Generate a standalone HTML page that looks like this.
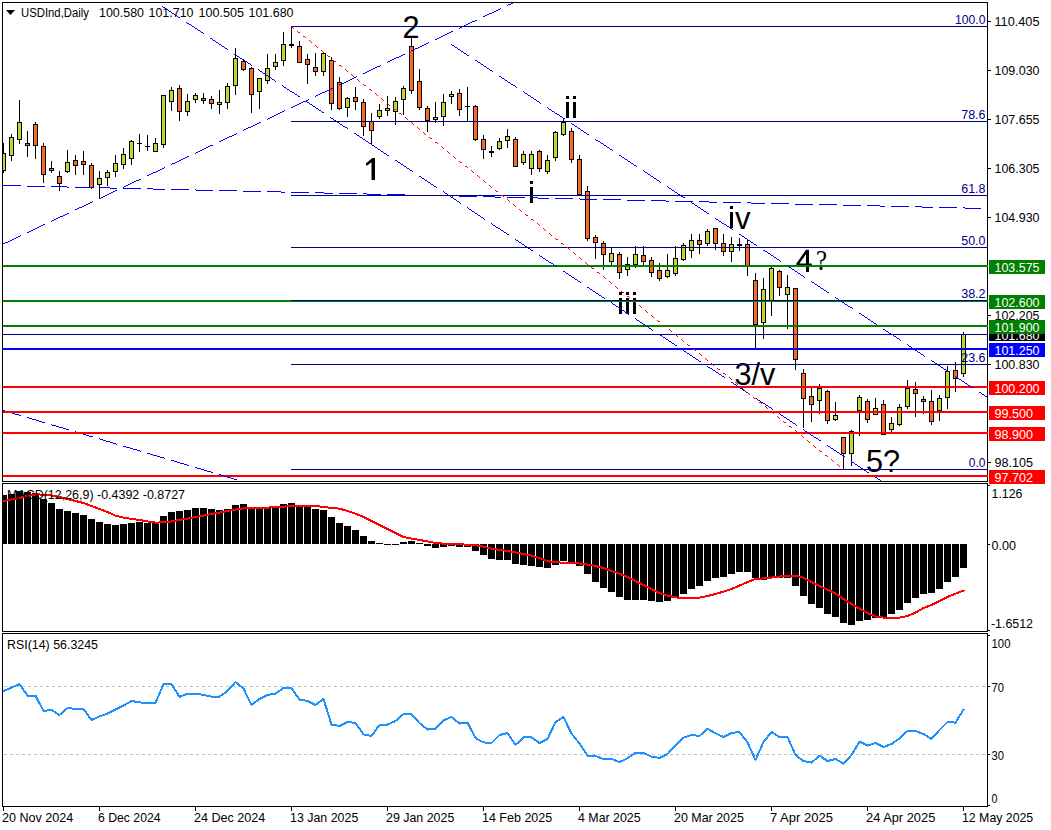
<!DOCTYPE html><html><head><meta charset="utf-8"><style>html,body{margin:0;padding:0;background:#fff;width:1051px;height:830px;overflow:hidden}svg{display:block}text{font-family:"Liberation Sans",sans-serif}</style></head><body>
<svg width="1051" height="830" viewBox="0 0 1051 830">
<defs><clipPath id="cm"><rect x="3" y="3" width="984" height="478"/></clipPath><clipPath id="cd"><rect x="3" y="484" width="984" height="147"/></clipPath><clipPath id="cr"><rect x="3" y="634" width="984" height="172"/></clipPath></defs>
<rect x="0" y="0" width="1051" height="830" fill="#fff"/>
<g clip-path="url(#cm)" shape-rendering="crispEdges">
<rect x="3" y="143" width="1" height="30" fill="#000"/>
<rect x="1" y="153" width="5" height="18" fill="#000"/>
<rect x="2" y="154" width="3" height="16" fill="#c3dc32"/>
<rect x="3" y="154" width="1" height="16" fill="#bbd230"/>
<rect x="11" y="134" width="1" height="27" fill="#000"/>
<rect x="9" y="137" width="5" height="19" fill="#000"/>
<rect x="10" y="138" width="3" height="17" fill="#c3dc32"/>
<rect x="11" y="138" width="1" height="17" fill="#bbd230"/>
<rect x="19" y="100" width="1" height="44" fill="#000"/>
<rect x="17" y="122" width="5" height="18" fill="#000"/>
<rect x="18" y="123" width="3" height="16" fill="#c3dc32"/>
<rect x="19" y="123" width="1" height="16" fill="#bbd230"/>
<rect x="27" y="131" width="1" height="26" fill="#000"/>
<rect x="25" y="143" width="5" height="3" fill="#000"/>
<rect x="26" y="144" width="3" height="1" fill="#ff6d24"/>
<rect x="27" y="144" width="1" height="1" fill="#f0672a"/>
<rect x="35" y="122" width="1" height="37" fill="#000"/>
<rect x="33" y="124" width="5" height="22" fill="#000"/>
<rect x="34" y="125" width="3" height="20" fill="#ff6d24"/>
<rect x="35" y="125" width="1" height="20" fill="#f0672a"/>
<rect x="43" y="143" width="1" height="40" fill="#000"/>
<rect x="41" y="146" width="5" height="29" fill="#000"/>
<rect x="42" y="147" width="3" height="27" fill="#ff6d24"/>
<rect x="43" y="147" width="1" height="27" fill="#f0672a"/>
<rect x="51" y="161" width="1" height="12" fill="#000"/>
<rect x="49" y="168" width="5" height="3" fill="#000"/>
<rect x="50" y="169" width="3" height="1" fill="#ff6d24"/>
<rect x="51" y="169" width="1" height="1" fill="#f0672a"/>
<rect x="59" y="171" width="1" height="20" fill="#000"/>
<rect x="57" y="176" width="5" height="8" fill="#000"/>
<rect x="58" y="177" width="3" height="6" fill="#ff6d24"/>
<rect x="59" y="177" width="1" height="6" fill="#f0672a"/>
<rect x="67" y="150" width="1" height="23" fill="#000"/>
<rect x="65" y="162" width="5" height="10" fill="#000"/>
<rect x="66" y="163" width="3" height="8" fill="#c3dc32"/>
<rect x="67" y="163" width="1" height="8" fill="#bbd230"/>
<rect x="75" y="155" width="1" height="20" fill="#000"/>
<rect x="73" y="160" width="5" height="6" fill="#000"/>
<rect x="74" y="161" width="3" height="4" fill="#ff6d24"/>
<rect x="75" y="161" width="1" height="4" fill="#f0672a"/>
<rect x="83" y="151" width="1" height="24" fill="#000"/>
<rect x="81" y="161" width="5" height="4" fill="#000"/>
<rect x="82" y="162" width="3" height="2" fill="#ff6d24"/>
<rect x="83" y="162" width="1" height="2" fill="#f0672a"/>
<rect x="91" y="163" width="1" height="26" fill="#000"/>
<rect x="89" y="165" width="5" height="23" fill="#000"/>
<rect x="90" y="166" width="3" height="21" fill="#ff6d24"/>
<rect x="91" y="166" width="1" height="21" fill="#f0672a"/>
<rect x="99" y="171" width="1" height="28" fill="#000"/>
<rect x="97" y="178" width="5" height="7" fill="#000"/>
<rect x="98" y="179" width="3" height="5" fill="#c3dc32"/>
<rect x="99" y="179" width="1" height="5" fill="#bbd230"/>
<rect x="107" y="170" width="1" height="16" fill="#000"/>
<rect x="105" y="172" width="5" height="6" fill="#000"/>
<rect x="106" y="173" width="3" height="4" fill="#c3dc32"/>
<rect x="107" y="173" width="1" height="4" fill="#bbd230"/>
<rect x="115" y="155" width="1" height="22" fill="#000"/>
<rect x="113" y="163" width="5" height="9" fill="#000"/>
<rect x="114" y="164" width="3" height="7" fill="#c3dc32"/>
<rect x="115" y="164" width="1" height="7" fill="#bbd230"/>
<rect x="123" y="148" width="1" height="21" fill="#000"/>
<rect x="121" y="154" width="5" height="11" fill="#000"/>
<rect x="122" y="155" width="3" height="9" fill="#c3dc32"/>
<rect x="123" y="155" width="1" height="9" fill="#bbd230"/>
<rect x="131" y="140" width="1" height="25" fill="#000"/>
<rect x="129" y="141" width="5" height="18" fill="#000"/>
<rect x="130" y="142" width="3" height="16" fill="#c3dc32"/>
<rect x="131" y="142" width="1" height="16" fill="#bbd230"/>
<rect x="139" y="134" width="1" height="18" fill="#000"/>
<rect x="137" y="143" width="5" height="1" fill="#000"/>
<rect x="147" y="135" width="1" height="16" fill="#000"/>
<rect x="145" y="146" width="5" height="1" fill="#000"/>
<rect x="155" y="138" width="1" height="14" fill="#000"/>
<rect x="153" y="143" width="5" height="9" fill="#000"/>
<rect x="154" y="144" width="3" height="7" fill="#c3dc32"/>
<rect x="155" y="144" width="1" height="7" fill="#bbd230"/>
<rect x="163" y="95" width="1" height="53" fill="#000"/>
<rect x="161" y="95" width="5" height="50" fill="#000"/>
<rect x="162" y="96" width="3" height="48" fill="#c3dc32"/>
<rect x="163" y="96" width="1" height="48" fill="#bbd230"/>
<rect x="171" y="87" width="1" height="24" fill="#000"/>
<rect x="169" y="90" width="5" height="12" fill="#000"/>
<rect x="170" y="91" width="3" height="10" fill="#c3dc32"/>
<rect x="171" y="91" width="1" height="10" fill="#bbd230"/>
<rect x="179" y="85" width="1" height="36" fill="#000"/>
<rect x="177" y="88" width="5" height="24" fill="#000"/>
<rect x="178" y="89" width="3" height="22" fill="#ff6d24"/>
<rect x="179" y="89" width="1" height="22" fill="#f0672a"/>
<rect x="187" y="94" width="1" height="22" fill="#000"/>
<rect x="185" y="101" width="5" height="11" fill="#000"/>
<rect x="186" y="102" width="3" height="9" fill="#c3dc32"/>
<rect x="187" y="102" width="1" height="9" fill="#bbd230"/>
<rect x="195" y="93" width="1" height="10" fill="#000"/>
<rect x="193" y="95" width="5" height="5" fill="#000"/>
<rect x="194" y="96" width="3" height="3" fill="#c3dc32"/>
<rect x="195" y="96" width="1" height="3" fill="#bbd230"/>
<rect x="203" y="93" width="1" height="11" fill="#000"/>
<rect x="201" y="98" width="5" height="3" fill="#000"/>
<rect x="202" y="99" width="3" height="1" fill="#ff6d24"/>
<rect x="203" y="99" width="1" height="1" fill="#f0672a"/>
<rect x="211" y="96" width="1" height="13" fill="#000"/>
<rect x="209" y="99" width="5" height="5" fill="#000"/>
<rect x="210" y="100" width="3" height="3" fill="#ff6d24"/>
<rect x="211" y="100" width="1" height="3" fill="#f0672a"/>
<rect x="219" y="90" width="1" height="24" fill="#000"/>
<rect x="217" y="102" width="5" height="3" fill="#000"/>
<rect x="218" y="103" width="3" height="1" fill="#c3dc32"/>
<rect x="219" y="103" width="1" height="1" fill="#bbd230"/>
<rect x="227" y="83" width="1" height="26" fill="#000"/>
<rect x="225" y="86" width="5" height="17" fill="#000"/>
<rect x="226" y="87" width="3" height="15" fill="#c3dc32"/>
<rect x="227" y="87" width="1" height="15" fill="#bbd230"/>
<rect x="235" y="48" width="1" height="47" fill="#000"/>
<rect x="233" y="58" width="5" height="28" fill="#000"/>
<rect x="234" y="59" width="3" height="26" fill="#c3dc32"/>
<rect x="235" y="59" width="1" height="26" fill="#bbd230"/>
<rect x="243" y="60" width="1" height="11" fill="#000"/>
<rect x="241" y="61" width="5" height="9" fill="#000"/>
<rect x="242" y="62" width="3" height="7" fill="#ff6d24"/>
<rect x="243" y="62" width="1" height="7" fill="#f0672a"/>
<rect x="251" y="67" width="1" height="46" fill="#000"/>
<rect x="249" y="68" width="5" height="27" fill="#000"/>
<rect x="250" y="69" width="3" height="25" fill="#ff6d24"/>
<rect x="251" y="69" width="1" height="25" fill="#f0672a"/>
<rect x="259" y="78" width="1" height="31" fill="#000"/>
<rect x="257" y="78" width="5" height="14" fill="#000"/>
<rect x="258" y="79" width="3" height="12" fill="#c3dc32"/>
<rect x="259" y="79" width="1" height="12" fill="#bbd230"/>
<rect x="267" y="54" width="1" height="30" fill="#000"/>
<rect x="265" y="68" width="5" height="13" fill="#000"/>
<rect x="266" y="69" width="3" height="11" fill="#c3dc32"/>
<rect x="267" y="69" width="1" height="11" fill="#bbd230"/>
<rect x="275" y="54" width="1" height="16" fill="#000"/>
<rect x="273" y="62" width="5" height="5" fill="#000"/>
<rect x="274" y="63" width="3" height="3" fill="#c3dc32"/>
<rect x="275" y="63" width="1" height="3" fill="#bbd230"/>
<rect x="283" y="32" width="1" height="34" fill="#000"/>
<rect x="281" y="44" width="5" height="17" fill="#000"/>
<rect x="282" y="45" width="3" height="15" fill="#c3dc32"/>
<rect x="283" y="45" width="1" height="15" fill="#bbd230"/>
<rect x="291" y="26" width="1" height="22" fill="#000"/>
<rect x="289" y="44" width="5" height="2" fill="#000"/>
<rect x="299" y="41" width="1" height="22" fill="#000"/>
<rect x="297" y="46" width="5" height="17" fill="#000"/>
<rect x="298" y="47" width="3" height="15" fill="#ff6d24"/>
<rect x="299" y="47" width="1" height="15" fill="#f0672a"/>
<rect x="307" y="54" width="1" height="30" fill="#000"/>
<rect x="305" y="59" width="5" height="6" fill="#000"/>
<rect x="306" y="60" width="3" height="4" fill="#ff6d24"/>
<rect x="307" y="60" width="1" height="4" fill="#f0672a"/>
<rect x="315" y="53" width="1" height="23" fill="#000"/>
<rect x="313" y="67" width="5" height="5" fill="#000"/>
<rect x="314" y="68" width="3" height="3" fill="#ff6d24"/>
<rect x="315" y="68" width="1" height="3" fill="#f0672a"/>
<rect x="323" y="53" width="1" height="23" fill="#000"/>
<rect x="321" y="53" width="5" height="19" fill="#000"/>
<rect x="322" y="54" width="3" height="17" fill="#c3dc32"/>
<rect x="323" y="54" width="1" height="17" fill="#bbd230"/>
<rect x="331" y="57" width="1" height="53" fill="#000"/>
<rect x="329" y="60" width="5" height="44" fill="#000"/>
<rect x="330" y="61" width="3" height="42" fill="#ff6d24"/>
<rect x="331" y="61" width="1" height="42" fill="#f0672a"/>
<rect x="339" y="77" width="1" height="33" fill="#000"/>
<rect x="337" y="82" width="5" height="27" fill="#000"/>
<rect x="338" y="83" width="3" height="25" fill="#ff6d24"/>
<rect x="339" y="83" width="1" height="25" fill="#f0672a"/>
<rect x="347" y="97" width="1" height="20" fill="#000"/>
<rect x="345" y="98" width="5" height="10" fill="#000"/>
<rect x="346" y="99" width="3" height="8" fill="#c3dc32"/>
<rect x="347" y="99" width="1" height="8" fill="#bbd230"/>
<rect x="355" y="87" width="1" height="23" fill="#000"/>
<rect x="353" y="97" width="5" height="5" fill="#000"/>
<rect x="354" y="98" width="3" height="3" fill="#ff6d24"/>
<rect x="355" y="98" width="1" height="3" fill="#f0672a"/>
<rect x="363" y="99" width="1" height="37" fill="#000"/>
<rect x="361" y="102" width="5" height="25" fill="#000"/>
<rect x="362" y="103" width="3" height="23" fill="#ff6d24"/>
<rect x="363" y="103" width="1" height="23" fill="#f0672a"/>
<rect x="371" y="113" width="1" height="32" fill="#000"/>
<rect x="369" y="121" width="5" height="10" fill="#000"/>
<rect x="370" y="122" width="3" height="8" fill="#ff6d24"/>
<rect x="371" y="122" width="1" height="8" fill="#f0672a"/>
<rect x="379" y="104" width="1" height="15" fill="#000"/>
<rect x="377" y="110" width="5" height="7" fill="#000"/>
<rect x="378" y="111" width="3" height="5" fill="#c3dc32"/>
<rect x="379" y="111" width="1" height="5" fill="#bbd230"/>
<rect x="387" y="96" width="1" height="20" fill="#000"/>
<rect x="385" y="108" width="5" height="3" fill="#000"/>
<rect x="386" y="109" width="3" height="1" fill="#c3dc32"/>
<rect x="387" y="109" width="1" height="1" fill="#bbd230"/>
<rect x="395" y="97" width="1" height="28" fill="#000"/>
<rect x="393" y="101" width="5" height="11" fill="#000"/>
<rect x="394" y="102" width="3" height="9" fill="#c3dc32"/>
<rect x="395" y="102" width="1" height="9" fill="#bbd230"/>
<rect x="403" y="86" width="1" height="29" fill="#000"/>
<rect x="401" y="88" width="5" height="12" fill="#000"/>
<rect x="402" y="89" width="3" height="10" fill="#c3dc32"/>
<rect x="403" y="89" width="1" height="10" fill="#bbd230"/>
<rect x="411" y="38" width="1" height="56" fill="#000"/>
<rect x="409" y="46" width="5" height="45" fill="#000"/>
<rect x="410" y="47" width="3" height="43" fill="#ff6d24"/>
<rect x="411" y="47" width="1" height="43" fill="#f0672a"/>
<rect x="419" y="69" width="1" height="41" fill="#000"/>
<rect x="417" y="81" width="5" height="27" fill="#000"/>
<rect x="418" y="82" width="3" height="25" fill="#ff6d24"/>
<rect x="419" y="82" width="1" height="25" fill="#f0672a"/>
<rect x="427" y="106" width="1" height="26" fill="#000"/>
<rect x="425" y="108" width="5" height="13" fill="#000"/>
<rect x="426" y="109" width="3" height="11" fill="#ff6d24"/>
<rect x="427" y="109" width="1" height="11" fill="#f0672a"/>
<rect x="435" y="102" width="1" height="21" fill="#000"/>
<rect x="433" y="117" width="5" height="3" fill="#000"/>
<rect x="434" y="118" width="3" height="1" fill="#c3dc32"/>
<rect x="435" y="118" width="1" height="1" fill="#bbd230"/>
<rect x="443" y="94" width="1" height="32" fill="#000"/>
<rect x="441" y="102" width="5" height="15" fill="#000"/>
<rect x="442" y="103" width="3" height="13" fill="#c3dc32"/>
<rect x="443" y="103" width="1" height="13" fill="#bbd230"/>
<rect x="451" y="91" width="1" height="13" fill="#000"/>
<rect x="449" y="94" width="5" height="3" fill="#000"/>
<rect x="450" y="95" width="3" height="1" fill="#c3dc32"/>
<rect x="451" y="95" width="1" height="1" fill="#bbd230"/>
<rect x="459" y="89" width="1" height="27" fill="#000"/>
<rect x="457" y="93" width="5" height="17" fill="#000"/>
<rect x="458" y="94" width="3" height="15" fill="#ff6d24"/>
<rect x="459" y="94" width="1" height="15" fill="#f0672a"/>
<rect x="467" y="87" width="1" height="35" fill="#000"/>
<rect x="465" y="106" width="5" height="1" fill="#000"/>
<rect x="475" y="105" width="1" height="36" fill="#000"/>
<rect x="473" y="106" width="5" height="34" fill="#000"/>
<rect x="474" y="107" width="3" height="32" fill="#ff6d24"/>
<rect x="475" y="107" width="1" height="32" fill="#f0672a"/>
<rect x="483" y="135" width="1" height="24" fill="#000"/>
<rect x="481" y="139" width="5" height="11" fill="#000"/>
<rect x="482" y="140" width="3" height="9" fill="#ff6d24"/>
<rect x="483" y="140" width="1" height="9" fill="#f0672a"/>
<rect x="491" y="146" width="1" height="11" fill="#000"/>
<rect x="489" y="151" width="5" height="2" fill="#000"/>
<rect x="499" y="138" width="1" height="12" fill="#000"/>
<rect x="497" y="141" width="5" height="8" fill="#000"/>
<rect x="498" y="142" width="3" height="6" fill="#c3dc32"/>
<rect x="499" y="142" width="1" height="6" fill="#bbd230"/>
<rect x="507" y="129" width="1" height="19" fill="#000"/>
<rect x="505" y="136" width="5" height="5" fill="#000"/>
<rect x="506" y="137" width="3" height="3" fill="#c3dc32"/>
<rect x="507" y="137" width="1" height="3" fill="#bbd230"/>
<rect x="515" y="137" width="1" height="30" fill="#000"/>
<rect x="513" y="139" width="5" height="28" fill="#000"/>
<rect x="514" y="140" width="3" height="26" fill="#ff6d24"/>
<rect x="515" y="140" width="1" height="26" fill="#f0672a"/>
<rect x="523" y="151" width="1" height="14" fill="#000"/>
<rect x="521" y="154" width="5" height="9" fill="#000"/>
<rect x="522" y="155" width="3" height="7" fill="#c3dc32"/>
<rect x="523" y="155" width="1" height="7" fill="#bbd230"/>
<rect x="531" y="151" width="1" height="24" fill="#000"/>
<rect x="529" y="154" width="5" height="15" fill="#000"/>
<rect x="530" y="155" width="3" height="13" fill="#c3dc32"/>
<rect x="531" y="155" width="1" height="13" fill="#bbd230"/>
<rect x="539" y="150" width="1" height="22" fill="#000"/>
<rect x="537" y="151" width="5" height="18" fill="#000"/>
<rect x="538" y="152" width="3" height="16" fill="#ff6d24"/>
<rect x="539" y="152" width="1" height="16" fill="#f0672a"/>
<rect x="547" y="155" width="1" height="19" fill="#000"/>
<rect x="545" y="160" width="5" height="12" fill="#000"/>
<rect x="546" y="161" width="3" height="10" fill="#c3dc32"/>
<rect x="547" y="161" width="1" height="10" fill="#bbd230"/>
<rect x="555" y="131" width="1" height="30" fill="#000"/>
<rect x="553" y="132" width="5" height="26" fill="#000"/>
<rect x="554" y="133" width="3" height="24" fill="#c3dc32"/>
<rect x="555" y="133" width="1" height="24" fill="#bbd230"/>
<rect x="563" y="118" width="1" height="18" fill="#000"/>
<rect x="561" y="122" width="5" height="13" fill="#000"/>
<rect x="562" y="123" width="3" height="11" fill="#c3dc32"/>
<rect x="563" y="123" width="1" height="11" fill="#bbd230"/>
<rect x="571" y="128" width="1" height="35" fill="#000"/>
<rect x="569" y="131" width="5" height="29" fill="#000"/>
<rect x="570" y="132" width="3" height="27" fill="#ff6d24"/>
<rect x="571" y="132" width="1" height="27" fill="#f0672a"/>
<rect x="579" y="155" width="1" height="40" fill="#000"/>
<rect x="577" y="159" width="5" height="36" fill="#000"/>
<rect x="578" y="160" width="3" height="34" fill="#ff6d24"/>
<rect x="579" y="160" width="1" height="34" fill="#f0672a"/>
<rect x="587" y="186" width="1" height="55" fill="#000"/>
<rect x="585" y="191" width="5" height="48" fill="#000"/>
<rect x="586" y="192" width="3" height="46" fill="#ff6d24"/>
<rect x="587" y="192" width="1" height="46" fill="#f0672a"/>
<rect x="595" y="235" width="1" height="24" fill="#000"/>
<rect x="593" y="237" width="5" height="6" fill="#000"/>
<rect x="594" y="238" width="3" height="4" fill="#ff6d24"/>
<rect x="595" y="238" width="1" height="4" fill="#f0672a"/>
<rect x="603" y="241" width="1" height="29" fill="#000"/>
<rect x="601" y="243" width="5" height="12" fill="#000"/>
<rect x="602" y="244" width="3" height="10" fill="#ff6d24"/>
<rect x="603" y="244" width="1" height="10" fill="#f0672a"/>
<rect x="611" y="248" width="1" height="17" fill="#000"/>
<rect x="609" y="253" width="5" height="9" fill="#000"/>
<rect x="610" y="254" width="3" height="7" fill="#c3dc32"/>
<rect x="611" y="254" width="1" height="7" fill="#bbd230"/>
<rect x="619" y="252" width="1" height="27" fill="#000"/>
<rect x="617" y="254" width="5" height="19" fill="#000"/>
<rect x="618" y="255" width="3" height="17" fill="#ff6d24"/>
<rect x="619" y="255" width="1" height="17" fill="#f0672a"/>
<rect x="627" y="257" width="1" height="19" fill="#000"/>
<rect x="625" y="264" width="5" height="6" fill="#000"/>
<rect x="626" y="265" width="3" height="4" fill="#c3dc32"/>
<rect x="627" y="265" width="1" height="4" fill="#bbd230"/>
<rect x="635" y="246" width="1" height="22" fill="#000"/>
<rect x="633" y="254" width="5" height="11" fill="#000"/>
<rect x="634" y="255" width="3" height="9" fill="#c3dc32"/>
<rect x="635" y="255" width="1" height="9" fill="#bbd230"/>
<rect x="643" y="246" width="1" height="19" fill="#000"/>
<rect x="641" y="255" width="5" height="7" fill="#000"/>
<rect x="642" y="256" width="3" height="5" fill="#ff6d24"/>
<rect x="643" y="256" width="1" height="5" fill="#f0672a"/>
<rect x="651" y="257" width="1" height="20" fill="#000"/>
<rect x="649" y="260" width="5" height="13" fill="#000"/>
<rect x="650" y="261" width="3" height="11" fill="#ff6d24"/>
<rect x="651" y="261" width="1" height="11" fill="#f0672a"/>
<rect x="659" y="263" width="1" height="18" fill="#000"/>
<rect x="657" y="270" width="5" height="9" fill="#000"/>
<rect x="658" y="271" width="3" height="7" fill="#ff6d24"/>
<rect x="659" y="271" width="1" height="7" fill="#f0672a"/>
<rect x="667" y="254" width="1" height="24" fill="#000"/>
<rect x="665" y="270" width="5" height="7" fill="#000"/>
<rect x="666" y="271" width="3" height="5" fill="#c3dc32"/>
<rect x="667" y="271" width="1" height="5" fill="#bbd230"/>
<rect x="675" y="246" width="1" height="30" fill="#000"/>
<rect x="673" y="258" width="5" height="16" fill="#000"/>
<rect x="674" y="259" width="3" height="14" fill="#c3dc32"/>
<rect x="675" y="259" width="1" height="14" fill="#bbd230"/>
<rect x="683" y="243" width="1" height="18" fill="#000"/>
<rect x="681" y="245" width="5" height="15" fill="#000"/>
<rect x="682" y="246" width="3" height="13" fill="#c3dc32"/>
<rect x="683" y="246" width="1" height="13" fill="#bbd230"/>
<rect x="691" y="234" width="1" height="24" fill="#000"/>
<rect x="689" y="240" width="5" height="11" fill="#000"/>
<rect x="690" y="241" width="3" height="9" fill="#c3dc32"/>
<rect x="691" y="241" width="1" height="9" fill="#bbd230"/>
<rect x="699" y="234" width="1" height="20" fill="#000"/>
<rect x="697" y="240" width="5" height="5" fill="#000"/>
<rect x="698" y="241" width="3" height="3" fill="#ff6d24"/>
<rect x="699" y="241" width="1" height="3" fill="#f0672a"/>
<rect x="707" y="229" width="1" height="17" fill="#000"/>
<rect x="705" y="231" width="5" height="13" fill="#000"/>
<rect x="706" y="232" width="3" height="11" fill="#c3dc32"/>
<rect x="707" y="232" width="1" height="11" fill="#bbd230"/>
<rect x="715" y="228" width="1" height="22" fill="#000"/>
<rect x="713" y="228" width="5" height="16" fill="#000"/>
<rect x="714" y="229" width="3" height="14" fill="#ff6d24"/>
<rect x="715" y="229" width="1" height="14" fill="#f0672a"/>
<rect x="723" y="234" width="1" height="22" fill="#000"/>
<rect x="721" y="243" width="5" height="9" fill="#000"/>
<rect x="722" y="244" width="3" height="7" fill="#ff6d24"/>
<rect x="723" y="244" width="1" height="7" fill="#f0672a"/>
<rect x="731" y="237" width="1" height="25" fill="#000"/>
<rect x="729" y="244" width="5" height="8" fill="#000"/>
<rect x="730" y="245" width="3" height="6" fill="#c3dc32"/>
<rect x="731" y="245" width="1" height="6" fill="#bbd230"/>
<rect x="739" y="238" width="1" height="13" fill="#000"/>
<rect x="737" y="244" width="5" height="2" fill="#000"/>
<rect x="747" y="240" width="1" height="36" fill="#000"/>
<rect x="745" y="244" width="5" height="22" fill="#000"/>
<rect x="746" y="245" width="3" height="20" fill="#ff6d24"/>
<rect x="747" y="245" width="1" height="20" fill="#f0672a"/>
<rect x="755" y="273" width="1" height="76" fill="#000"/>
<rect x="753" y="280" width="5" height="45" fill="#000"/>
<rect x="754" y="281" width="3" height="43" fill="#ff6d24"/>
<rect x="755" y="281" width="1" height="43" fill="#f0672a"/>
<rect x="763" y="278" width="1" height="61" fill="#000"/>
<rect x="761" y="289" width="5" height="34" fill="#000"/>
<rect x="762" y="290" width="3" height="32" fill="#c3dc32"/>
<rect x="763" y="290" width="1" height="32" fill="#bbd230"/>
<rect x="771" y="267" width="1" height="49" fill="#000"/>
<rect x="769" y="268" width="5" height="33" fill="#000"/>
<rect x="770" y="269" width="3" height="31" fill="#c3dc32"/>
<rect x="771" y="269" width="1" height="31" fill="#bbd230"/>
<rect x="779" y="270" width="1" height="26" fill="#000"/>
<rect x="777" y="271" width="5" height="17" fill="#000"/>
<rect x="778" y="272" width="3" height="15" fill="#ff6d24"/>
<rect x="779" y="272" width="1" height="15" fill="#f0672a"/>
<rect x="787" y="275" width="1" height="54" fill="#000"/>
<rect x="785" y="287" width="5" height="8" fill="#000"/>
<rect x="786" y="288" width="3" height="6" fill="#c3dc32"/>
<rect x="787" y="288" width="1" height="6" fill="#bbd230"/>
<rect x="795" y="288" width="1" height="82" fill="#000"/>
<rect x="793" y="288" width="5" height="72" fill="#000"/>
<rect x="794" y="289" width="3" height="70" fill="#ff6d24"/>
<rect x="795" y="289" width="1" height="70" fill="#f0672a"/>
<rect x="803" y="369" width="1" height="59" fill="#000"/>
<rect x="801" y="373" width="5" height="26" fill="#000"/>
<rect x="802" y="374" width="3" height="24" fill="#ff6d24"/>
<rect x="803" y="374" width="1" height="24" fill="#f0672a"/>
<rect x="811" y="388" width="1" height="34" fill="#000"/>
<rect x="809" y="396" width="5" height="9" fill="#000"/>
<rect x="810" y="397" width="3" height="7" fill="#ff6d24"/>
<rect x="811" y="397" width="1" height="7" fill="#f0672a"/>
<rect x="819" y="384" width="1" height="30" fill="#000"/>
<rect x="817" y="388" width="5" height="13" fill="#000"/>
<rect x="818" y="389" width="3" height="11" fill="#c3dc32"/>
<rect x="819" y="389" width="1" height="11" fill="#bbd230"/>
<rect x="827" y="390" width="1" height="34" fill="#000"/>
<rect x="825" y="391" width="5" height="30" fill="#000"/>
<rect x="826" y="392" width="3" height="28" fill="#ff6d24"/>
<rect x="827" y="392" width="1" height="28" fill="#f0672a"/>
<rect x="835" y="402" width="1" height="19" fill="#000"/>
<rect x="833" y="415" width="5" height="5" fill="#000"/>
<rect x="834" y="416" width="3" height="3" fill="#c3dc32"/>
<rect x="835" y="416" width="1" height="3" fill="#bbd230"/>
<rect x="843" y="437" width="1" height="33" fill="#000"/>
<rect x="841" y="437" width="5" height="17" fill="#000"/>
<rect x="842" y="438" width="3" height="15" fill="#ff6d24"/>
<rect x="843" y="438" width="1" height="15" fill="#f0672a"/>
<rect x="851" y="430" width="1" height="36" fill="#000"/>
<rect x="849" y="431" width="5" height="23" fill="#000"/>
<rect x="850" y="432" width="3" height="21" fill="#c3dc32"/>
<rect x="851" y="432" width="1" height="21" fill="#bbd230"/>
<rect x="859" y="395" width="1" height="41" fill="#000"/>
<rect x="857" y="397" width="5" height="14" fill="#000"/>
<rect x="858" y="398" width="3" height="12" fill="#c3dc32"/>
<rect x="859" y="398" width="1" height="12" fill="#bbd230"/>
<rect x="867" y="399" width="1" height="24" fill="#000"/>
<rect x="865" y="401" width="5" height="19" fill="#000"/>
<rect x="866" y="402" width="3" height="17" fill="#ff6d24"/>
<rect x="867" y="402" width="1" height="17" fill="#f0672a"/>
<rect x="875" y="398" width="1" height="17" fill="#000"/>
<rect x="873" y="408" width="5" height="7" fill="#000"/>
<rect x="874" y="409" width="3" height="5" fill="#c3dc32"/>
<rect x="875" y="409" width="1" height="5" fill="#bbd230"/>
<rect x="883" y="400" width="1" height="35" fill="#000"/>
<rect x="881" y="404" width="5" height="31" fill="#000"/>
<rect x="882" y="405" width="3" height="29" fill="#ff6d24"/>
<rect x="883" y="405" width="1" height="29" fill="#f0672a"/>
<rect x="891" y="417" width="1" height="15" fill="#000"/>
<rect x="889" y="423" width="5" height="7" fill="#000"/>
<rect x="890" y="424" width="3" height="5" fill="#c3dc32"/>
<rect x="891" y="424" width="1" height="5" fill="#bbd230"/>
<rect x="899" y="404" width="1" height="22" fill="#000"/>
<rect x="897" y="407" width="5" height="18" fill="#000"/>
<rect x="898" y="408" width="3" height="16" fill="#c3dc32"/>
<rect x="899" y="408" width="1" height="16" fill="#bbd230"/>
<rect x="907" y="380" width="1" height="29" fill="#000"/>
<rect x="905" y="388" width="5" height="19" fill="#000"/>
<rect x="906" y="389" width="3" height="17" fill="#c3dc32"/>
<rect x="907" y="389" width="1" height="17" fill="#bbd230"/>
<rect x="915" y="382" width="1" height="35" fill="#000"/>
<rect x="913" y="389" width="5" height="5" fill="#000"/>
<rect x="914" y="390" width="3" height="3" fill="#ff6d24"/>
<rect x="915" y="390" width="1" height="3" fill="#f0672a"/>
<rect x="923" y="396" width="1" height="18" fill="#000"/>
<rect x="921" y="399" width="5" height="3" fill="#000"/>
<rect x="922" y="400" width="3" height="1" fill="#ff6d24"/>
<rect x="923" y="400" width="1" height="1" fill="#f0672a"/>
<rect x="931" y="390" width="1" height="35" fill="#000"/>
<rect x="929" y="401" width="5" height="21" fill="#000"/>
<rect x="930" y="402" width="3" height="19" fill="#ff6d24"/>
<rect x="931" y="402" width="1" height="19" fill="#f0672a"/>
<rect x="939" y="395" width="1" height="26" fill="#000"/>
<rect x="937" y="398" width="5" height="13" fill="#000"/>
<rect x="938" y="399" width="3" height="11" fill="#c3dc32"/>
<rect x="939" y="399" width="1" height="11" fill="#bbd230"/>
<rect x="947" y="366" width="1" height="43" fill="#000"/>
<rect x="945" y="371" width="5" height="27" fill="#000"/>
<rect x="946" y="372" width="3" height="25" fill="#c3dc32"/>
<rect x="947" y="372" width="1" height="25" fill="#bbd230"/>
<rect x="955" y="362" width="1" height="30" fill="#000"/>
<rect x="953" y="370" width="5" height="9" fill="#000"/>
<rect x="954" y="371" width="3" height="7" fill="#ff6d24"/>
<rect x="955" y="371" width="1" height="7" fill="#f0672a"/>
<rect x="963" y="332" width="1" height="45" fill="#000"/>
<rect x="961" y="334" width="5" height="40" fill="#000"/>
<rect x="962" y="335" width="3" height="38" fill="#c3dc32"/>
<rect x="963" y="335" width="1" height="38" fill="#bbd230"/>
</g>
<g clip-path="url(#cm)">
<path d="M372.4,158 L375,158 L375,180 L371.5,180 L371.5,162.3 L366.5,166 L365.8,163.4 Z" fill="#000"/>
<text x="402.5" y="38" font-size="30.67" fill="#000">2</text>
<g fill="#000" shape-rendering="crispEdges"><rect x="566" y="96" width="3" height="3"/><rect x="566" y="102" width="3" height="16"/><rect x="573" y="96" width="3" height="3"/><rect x="573" y="102" width="3" height="16"/><rect x="530" y="181" width="3" height="3"/><rect x="530" y="187" width="3" height="16"/><rect x="619" y="292" width="3" height="3"/><rect x="619" y="298" width="3" height="16"/><rect x="626" y="292" width="3" height="3"/><rect x="626" y="298" width="3" height="16"/><rect x="633" y="292" width="3" height="3"/><rect x="633" y="298" width="3" height="16"/><rect x="730" y="206" width="3" height="3"/><rect x="730" y="212" width="3" height="16"/></g>
<text x="735" y="229" font-size="31" fill="#000">v</text>
<text x="734.5" y="384.5" font-size="30.67" fill="#000">3/v</text>
<path d="M806,249.8 L809,249.8 L809,263.6 L811.8,263.6 L811.8,265.6 L809,265.6 L809,272 L806,272 L806,265.6 L796.4,265.6 L796.4,263.6 Z M806,254.3 L806,263.6 L799.4,263.6 Z" fill="#000" fill-rule="evenodd"/>
<text x="816" y="269.8" font-size="29" fill="#000" textLength="11" lengthAdjust="spacingAndGlyphs" style="font-family:'Liberation Serif',serif">?</text>
<text x="866" y="472" font-size="30.67" fill="#000">5?</text>
</g>
<g clip-path="url(#cm)" shape-rendering="crispEdges">
<rect x="3" y="265" width="985" height="2" fill="#008000"/>
<rect x="3" y="300" width="985" height="2" fill="#008000"/>
<rect x="3" y="325" width="985" height="2" fill="#008000"/>
<rect x="3" y="348" width="985" height="2" fill="#0000ff"/>
<rect x="3" y="386" width="985" height="2" fill="#ff0000"/>
<rect x="3" y="411" width="985" height="2" fill="#ff0000"/>
<rect x="3" y="432" width="985" height="2" fill="#ff0000"/>
<rect x="3" y="475" width="985" height="2" fill="#ff0000"/>
<rect x="3" y="334" width="985" height="1" fill="#000088"/>
</g>
<path d="M3 185h18v1h-18zM27 186h18v1h-18zM51 186h16v1h-16zM67 187h2v1h-2zM75 187h18v1h-18zM99 187h11v1h-11zM110 188h7v1h-7zM123 188h18v1h-18zM147 188h6v1h-6zM153 189h12v1h-12zM171 189h18v1h-18zM195 189h1v1h-1zM196 190h17v1h-17zM219 190h18v1h-18zM243 191h18v1h-18zM267 191h14v1h-14zM281 192h4v1h-4zM291 192h18v1h-18zM315 192h9v1h-9zM324 193h9v1h-9zM339 193h18v1h-18zM363 193h4v1h-4zM367 194h14v1h-14zM387 194h18v1h-18zM411 195h18v1h-18zM435 195h17v1h-17zM452 196h1v1h-1zM459 196h18v1h-18zM483 196h12v1h-12zM495 197h6v1h-6zM507 197h18v1h-18zM531 197h7v1h-7zM538 198h11v1h-11zM555 198h18v1h-18zM579 198h1v1h-1zM580 199h17v1h-17zM603 199h18v1h-18zM627 200h18v1h-18zM651 200h15v1h-15zM666 201h3v1h-3zM675 201h18v1h-18zM699 201h10v1h-10zM709 202h8v1h-8zM723 202h18v1h-18zM747 202h4v1h-4zM751 203h14v1h-14zM771 203h18v1h-18zM795 204h18v1h-18zM819 204h18v1h-18zM843 205h18v1h-18zM867 205h13v1h-13zM880 206h5v1h-5zM891 206h18v1h-18zM915 206h7v1h-7zM922 207h11v1h-11zM939 207h18v1h-18zM963 207h2v1h-2zM965 208h16v1h-16zM3 243h2v1h-2zM5 242h3v1h-3zM8 241h2v1h-2zM10 240h2v1h-2zM12 239h2v1h-2zM14 238h2v1h-2zM16 237h2v1h-2zM18 236h2v1h-2zM20 235h1v1h-1zM27 232h2v1h-2zM29 231h2v1h-2zM31 230h2v1h-2zM33 229h2v1h-2zM35 228h2v1h-2zM37 227h2v1h-2zM39 226h2v1h-2zM41 225h2v1h-2zM43 224h2v1h-2zM51 221h1v1h-1zM52 220h2v1h-2zM54 219h2v1h-2zM56 218h2v1h-2zM58 217h2v1h-2zM60 216h3v1h-3zM63 215h2v1h-2zM65 214h2v1h-2zM67 213h2v1h-2zM75 209h2v1h-2zM77 208h2v1h-2zM79 207h3v1h-3zM82 206h2v1h-2zM84 205h2v1h-2zM86 204h2v1h-2zM88 203h2v1h-2zM90 202h2v1h-2zM92 201h1v1h-1zM99 198h2v1h-2zM101 197h2v1h-2zM103 196h2v1h-2zM105 195h2v1h-2zM107 194h2v1h-2zM109 193h2v1h-2zM111 192h2v1h-2zM113 191h2v1h-2zM115 190h2v1h-2zM123 187h1v1h-1zM124 186h2v1h-2zM126 185h2v1h-2zM128 184h2v1h-2zM130 183h2v1h-2zM132 182h2v1h-2zM134 181h2v1h-2zM136 180h3v1h-3zM139 179h2v1h-2zM147 175h2v1h-2zM149 174h2v1h-2zM151 173h2v1h-2zM153 172h3v1h-3zM156 171h2v1h-2zM158 170h2v1h-2zM160 169h2v1h-2zM162 168h2v1h-2zM164 167h1v1h-1zM171 164h1v1h-1zM172 163h3v1h-3zM175 162h2v1h-2zM177 161h2v1h-2zM179 160h2v1h-2zM181 159h2v1h-2zM183 158h2v1h-2zM185 157h2v1h-2zM187 156h2v1h-2zM195 153h1v1h-1zM196 152h2v1h-2zM198 151h2v1h-2zM200 150h2v1h-2zM202 149h2v1h-2zM204 148h2v1h-2zM206 147h2v1h-2zM208 146h2v1h-2zM210 145h3v1h-3zM219 141h2v1h-2zM221 140h2v1h-2zM223 139h2v1h-2zM225 138h2v1h-2zM227 137h2v1h-2zM229 136h3v1h-3zM232 135h2v1h-2zM234 134h2v1h-2zM236 133h1v1h-1zM243 130h1v1h-1zM244 129h2v1h-2zM246 128h2v1h-2zM248 127h3v1h-3zM251 126h2v1h-2zM253 125h2v1h-2zM255 124h2v1h-2zM257 123h2v1h-2zM259 122h2v1h-2zM267 119h1v1h-1zM268 118h2v1h-2zM270 117h2v1h-2zM272 116h2v1h-2zM274 115h2v1h-2zM276 114h2v1h-2zM278 113h2v1h-2zM280 112h2v1h-2zM282 111h2v1h-2zM284 110h1v1h-1zM291 107h2v1h-2zM293 106h2v1h-2zM295 105h2v1h-2zM297 104h2v1h-2zM299 103h2v1h-2zM301 102h2v1h-2zM303 101h3v1h-3zM306 100h2v1h-2zM308 99h1v1h-1zM315 96h1v1h-1zM316 95h2v1h-2zM318 94h2v1h-2zM320 93h2v1h-2zM322 92h3v1h-3zM325 91h2v1h-2zM327 90h2v1h-2zM329 89h2v1h-2zM331 88h2v1h-2zM339 84h2v1h-2zM341 83h3v1h-3zM344 82h2v1h-2zM346 81h2v1h-2zM348 80h2v1h-2zM350 79h2v1h-2zM352 78h2v1h-2zM354 77h2v1h-2zM356 76h1v1h-1zM363 73h2v1h-2zM365 72h2v1h-2zM367 71h2v1h-2zM369 70h2v1h-2zM371 69h2v1h-2zM373 68h2v1h-2zM375 67h2v1h-2zM377 66h3v1h-3zM380 65h1v1h-1zM387 62h1v1h-1zM388 61h2v1h-2zM390 60h2v1h-2zM392 59h2v1h-2zM394 58h2v1h-2zM396 57h3v1h-3zM399 56h2v1h-2zM401 55h2v1h-2zM403 54h2v1h-2zM411 50h2v1h-2zM413 49h2v1h-2zM415 48h3v1h-3zM418 47h2v1h-2zM420 46h2v1h-2zM422 45h2v1h-2zM424 44h2v1h-2zM426 43h2v1h-2zM428 42h1v1h-1zM435 39h2v1h-2zM437 38h2v1h-2zM439 37h2v1h-2zM441 36h2v1h-2zM443 35h2v1h-2zM445 34h2v1h-2zM447 33h2v1h-2zM449 32h2v1h-2zM451 31h2v1h-2zM459 28h1v1h-1zM460 27h2v1h-2zM462 26h2v1h-2zM464 25h2v1h-2zM466 24h2v1h-2zM468 23h2v1h-2zM470 22h2v1h-2zM472 21h3v1h-3zM475 20h2v1h-2zM483 16h2v1h-2zM485 15h2v1h-2zM487 14h2v1h-2zM489 13h3v1h-3zM492 12h2v1h-2zM494 11h2v1h-2zM496 10h2v1h-2zM498 9h2v1h-2zM500 8h1v1h-1zM507 5h1v1h-1zM508 4h3v1h-3zM511 3h2v1h-2zM162 6h1v1h-1zM163 7h2v1h-2zM165 8h1v1h-1zM166 9h2v1h-2zM168 10h1v1h-1zM169 11h2v1h-2zM171 12h1v1h-1zM172 13h2v1h-2zM174 14h1v1h-1zM175 15h2v1h-2zM177 16h1v1h-1zM178 17h2v1h-2zM186 22h1v1h-1zM187 23h2v1h-2zM189 24h2v1h-2zM191 25h1v1h-1zM192 26h2v1h-2zM194 27h1v1h-1zM195 28h2v1h-2zM197 29h1v1h-1zM198 30h2v1h-2zM200 31h1v1h-1zM201 32h2v1h-2zM203 33h1v1h-1zM210 38h2v1h-2zM212 39h1v1h-1zM213 40h2v1h-2zM215 41h1v1h-1zM216 42h2v1h-2zM218 43h1v1h-1zM219 44h2v1h-2zM221 45h1v1h-1zM222 46h2v1h-2zM224 47h1v1h-1zM225 48h2v1h-2zM227 49h1v1h-1zM234 54h2v1h-2zM236 55h1v1h-1zM237 56h2v1h-2zM239 57h1v1h-1zM240 58h2v1h-2zM242 59h2v1h-2zM244 60h1v1h-1zM245 61h2v1h-2zM247 62h1v1h-1zM248 63h2v1h-2zM250 64h1v1h-1zM251 65h1v1h-1zM258 69h1v1h-1zM259 70h1v1h-1zM260 71h2v1h-2zM262 72h1v1h-1zM263 73h2v1h-2zM265 74h1v1h-1zM266 75h2v1h-2zM268 76h1v1h-1zM269 77h2v1h-2zM271 78h1v1h-1zM272 79h2v1h-2zM274 80h1v1h-1zM275 81h1v1h-1zM282 85h1v1h-1zM283 86h1v1h-1zM284 87h2v1h-2zM286 88h1v1h-1zM287 89h2v1h-2zM289 90h1v1h-1zM290 91h2v1h-2zM292 92h2v1h-2zM294 93h1v1h-1zM295 94h2v1h-2zM297 95h1v1h-1zM298 96h2v1h-2zM306 101h1v1h-1zM307 102h2v1h-2zM309 103h1v1h-1zM310 104h2v1h-2zM312 105h1v1h-1zM313 106h2v1h-2zM315 107h1v1h-1zM316 108h2v1h-2zM318 109h1v1h-1zM319 110h2v1h-2zM321 111h1v1h-1zM322 112h2v1h-2zM330 117h1v1h-1zM331 118h2v1h-2zM333 119h1v1h-1zM334 120h2v1h-2zM336 121h1v1h-1zM337 122h2v1h-2zM339 123h1v1h-1zM340 124h2v1h-2zM342 125h1v1h-1zM343 126h2v1h-2zM345 127h2v1h-2zM347 128h1v1h-1zM354 133h2v1h-2zM356 134h1v1h-1zM357 135h2v1h-2zM359 136h1v1h-1zM360 137h2v1h-2zM362 138h1v1h-1zM363 139h2v1h-2zM365 140h1v1h-1zM366 141h2v1h-2zM368 142h1v1h-1zM369 143h2v1h-2zM371 144h1v1h-1zM371 144h1v1h-1zM372 145h2v1h-2zM374 146h1v1h-1zM375 147h2v1h-2zM377 148h1v1h-1zM378 149h2v1h-2zM380 150h1v1h-1zM381 151h2v1h-2zM383 152h1v1h-1zM384 153h2v1h-2zM386 154h1v1h-1zM387 155h2v1h-2zM395 160h2v1h-2zM397 161h1v1h-1zM398 162h2v1h-2zM400 163h1v1h-1zM401 164h2v1h-2zM403 165h1v1h-1zM404 166h2v1h-2zM406 167h1v1h-1zM407 168h2v1h-2zM409 169h1v1h-1zM410 170h2v1h-2zM412 171h1v1h-1zM419 176h2v1h-2zM421 177h1v1h-1zM422 178h2v1h-2zM424 179h1v1h-1zM425 180h2v1h-2zM427 181h1v1h-1zM428 182h2v1h-2zM430 183h1v1h-1zM431 184h2v1h-2zM433 185h1v1h-1zM434 186h2v1h-2zM436 187h1v1h-1zM443 191h1v1h-1zM444 192h1v1h-1zM445 193h2v1h-2zM447 194h1v1h-1zM448 195h2v1h-2zM450 196h1v1h-1zM451 197h2v1h-2zM453 198h1v1h-1zM454 199h2v1h-2zM456 200h1v1h-1zM457 201h2v1h-2zM459 202h1v1h-1zM460 203h1v1h-1zM467 207h1v1h-1zM468 208h1v1h-1zM469 209h2v1h-2zM471 210h1v1h-1zM472 211h2v1h-2zM474 212h1v1h-1zM475 213h2v1h-2zM477 214h1v1h-1zM478 215h2v1h-2zM480 216h1v1h-1zM481 217h2v1h-2zM483 218h1v1h-1zM484 219h1v1h-1zM491 223h1v1h-1zM492 224h1v1h-1zM493 225h2v1h-2zM495 226h1v1h-1zM496 227h2v1h-2zM498 228h2v1h-2zM500 229h1v1h-1zM501 230h2v1h-2zM503 231h1v1h-1zM504 232h2v1h-2zM506 233h1v1h-1zM507 234h2v1h-2zM515 239h1v1h-1zM516 240h2v1h-2zM518 241h1v1h-1zM519 242h2v1h-2zM521 243h1v1h-1zM522 244h2v1h-2zM524 245h1v1h-1zM525 246h2v1h-2zM527 247h1v1h-1zM528 248h2v1h-2zM530 249h1v1h-1zM531 250h2v1h-2zM539 255h1v1h-1zM540 256h2v1h-2zM542 257h1v1h-1zM543 258h2v1h-2zM545 259h1v1h-1zM546 260h2v1h-2zM548 261h1v1h-1zM549 262h2v1h-2zM551 263h2v1h-2zM553 264h1v1h-1zM554 265h2v1h-2zM556 266h1v1h-1zM563 271h2v1h-2zM565 272h1v1h-1zM566 273h2v1h-2zM568 274h1v1h-1zM569 275h2v1h-2zM571 276h1v1h-1zM572 277h2v1h-2zM574 278h1v1h-1zM575 279h2v1h-2zM577 280h1v1h-1zM578 281h2v1h-2zM580 282h1v1h-1zM587 287h2v1h-2zM589 288h1v1h-1zM590 289h2v1h-2zM592 290h1v1h-1zM593 291h2v1h-2zM595 292h1v1h-1zM596 293h2v1h-2zM598 294h1v1h-1zM599 295h2v1h-2zM601 296h1v1h-1zM602 297h2v1h-2zM604 298h1v1h-1zM611 302h1v1h-1zM612 303h1v1h-1zM613 304h2v1h-2zM615 305h1v1h-1zM616 306h2v1h-2zM618 307h1v1h-1zM619 308h2v1h-2zM621 309h1v1h-1zM622 310h2v1h-2zM624 311h1v1h-1zM625 312h2v1h-2zM627 313h1v1h-1zM628 314h1v1h-1zM635 318h1v1h-1zM636 319h1v1h-1zM637 320h2v1h-2zM639 321h1v1h-1zM640 322h2v1h-2zM642 323h1v1h-1zM643 324h2v1h-2zM645 325h1v1h-1zM646 326h2v1h-2zM648 327h1v1h-1zM649 328h2v1h-2zM651 329h1v1h-1zM652 330h1v1h-1zM659 334h1v1h-1zM660 335h2v1h-2zM662 336h1v1h-1zM663 337h2v1h-2zM665 338h1v1h-1zM666 339h2v1h-2zM668 340h1v1h-1zM669 341h2v1h-2zM671 342h1v1h-1zM672 343h2v1h-2zM674 344h1v1h-1zM675 345h2v1h-2zM683 350h1v1h-1zM684 351h2v1h-2zM686 352h1v1h-1zM687 353h2v1h-2zM689 354h1v1h-1zM690 355h2v1h-2zM692 356h1v1h-1zM693 357h2v1h-2zM695 358h1v1h-1zM696 359h2v1h-2zM698 360h1v1h-1zM699 361h2v1h-2zM707 366h1v1h-1zM708 367h2v1h-2zM710 368h2v1h-2zM712 369h1v1h-1zM713 370h2v1h-2zM715 371h1v1h-1zM716 372h2v1h-2zM718 373h1v1h-1zM719 374h2v1h-2zM721 375h1v1h-1zM722 376h2v1h-2zM724 377h1v1h-1zM731 382h2v1h-2zM733 383h1v1h-1zM734 384h2v1h-2zM736 385h1v1h-1zM737 386h2v1h-2zM739 387h1v1h-1zM740 388h2v1h-2zM742 389h1v1h-1zM743 390h2v1h-2zM745 391h1v1h-1zM746 392h2v1h-2zM748 393h1v1h-1zM755 398h2v1h-2zM757 399h1v1h-1zM758 400h2v1h-2zM760 401h1v1h-1zM761 402h2v1h-2zM763 403h2v1h-2zM765 404h1v1h-1zM766 405h2v1h-2zM768 406h1v1h-1zM769 407h2v1h-2zM771 408h1v1h-1zM772 409h1v1h-1zM779 413h1v1h-1zM780 414h1v1h-1zM781 415h2v1h-2zM783 416h1v1h-1zM784 417h2v1h-2zM786 418h1v1h-1zM787 419h2v1h-2zM789 420h1v1h-1zM790 421h2v1h-2zM792 422h1v1h-1zM793 423h2v1h-2zM795 424h1v1h-1zM796 425h1v1h-1zM803 429h1v1h-1zM804 430h1v1h-1zM805 431h2v1h-2zM807 432h1v1h-1zM808 433h2v1h-2zM810 434h1v1h-1zM811 435h2v1h-2zM813 436h1v1h-1zM814 437h2v1h-2zM816 438h2v1h-2zM818 439h1v1h-1zM819 440h2v1h-2zM827 445h1v1h-1zM828 446h2v1h-2zM830 447h1v1h-1zM831 448h2v1h-2zM833 449h1v1h-1zM834 450h2v1h-2zM836 451h1v1h-1zM837 452h2v1h-2zM839 453h1v1h-1zM840 454h2v1h-2zM842 455h1v1h-1zM843 456h2v1h-2zM851 461h1v1h-1zM852 462h2v1h-2zM854 463h1v1h-1zM855 464h2v1h-2zM857 465h1v1h-1zM858 466h2v1h-2zM860 467h1v1h-1zM861 468h2v1h-2zM863 469h1v1h-1zM864 470h2v1h-2zM866 471h1v1h-1zM867 472h2v1h-2zM875 477h2v1h-2zM877 478h1v1h-1zM878 479h2v1h-2zM880 480h1v1h-1zM451 44h1v1h-1zM452 45h2v1h-2zM454 46h1v1h-1zM455 47h2v1h-2zM457 48h1v1h-1zM458 49h2v1h-2zM460 50h1v1h-1zM461 51h2v1h-2zM463 52h1v1h-1zM464 53h2v1h-2zM466 54h1v1h-1zM467 55h2v1h-2zM475 60h2v1h-2zM477 61h1v1h-1zM478 62h2v1h-2zM480 63h1v1h-1zM481 64h2v1h-2zM483 65h1v1h-1zM484 66h2v1h-2zM486 67h1v1h-1zM487 68h2v1h-2zM489 69h1v1h-1zM490 70h2v1h-2zM492 71h1v1h-1zM499 76h2v1h-2zM501 77h1v1h-1zM502 78h2v1h-2zM504 79h1v1h-1zM505 80h2v1h-2zM507 81h1v1h-1zM508 82h2v1h-2zM510 83h1v1h-1zM511 84h2v1h-2zM513 85h2v1h-2zM515 86h1v1h-1zM516 87h1v1h-1zM523 91h1v1h-1zM524 92h1v1h-1zM525 93h2v1h-2zM527 94h1v1h-1zM528 95h2v1h-2zM530 96h1v1h-1zM531 97h2v1h-2zM533 98h1v1h-1zM534 99h2v1h-2zM536 100h1v1h-1zM537 101h2v1h-2zM539 102h1v1h-1zM540 103h1v1h-1zM547 107h1v1h-1zM548 108h1v1h-1zM549 109h2v1h-2zM551 110h1v1h-1zM552 111h2v1h-2zM554 112h1v1h-1zM555 113h2v1h-2zM557 114h2v1h-2zM559 115h1v1h-1zM560 116h2v1h-2zM562 117h1v1h-1zM563 118h2v1h-2zM571 123h1v1h-1zM572 124h2v1h-2zM574 125h1v1h-1zM575 126h2v1h-2zM577 127h1v1h-1zM578 128h2v1h-2zM580 129h1v1h-1zM581 130h2v1h-2zM583 131h1v1h-1zM584 132h2v1h-2zM586 133h1v1h-1zM587 134h2v1h-2zM595 139h1v1h-1zM596 140h2v1h-2zM598 141h2v1h-2zM600 142h1v1h-1zM601 143h2v1h-2zM603 144h1v1h-1zM604 145h2v1h-2zM606 146h1v1h-1zM607 147h2v1h-2zM609 148h1v1h-1zM610 149h2v1h-2zM612 150h1v1h-1zM619 155h2v1h-2zM621 156h1v1h-1zM622 157h2v1h-2zM624 158h1v1h-1zM625 159h2v1h-2zM627 160h1v1h-1zM628 161h2v1h-2zM630 162h1v1h-1zM631 163h2v1h-2zM633 164h1v1h-1zM634 165h2v1h-2zM636 166h1v1h-1zM643 170h1v1h-1zM644 171h1v1h-1zM645 172h2v1h-2zM647 173h1v1h-1zM648 174h2v1h-2zM650 175h1v1h-1zM651 176h2v1h-2zM653 177h1v1h-1zM654 178h2v1h-2zM656 179h1v1h-1zM657 180h2v1h-2zM659 181h1v1h-1zM660 182h1v1h-1zM667 186h1v1h-1zM668 187h1v1h-1zM669 188h2v1h-2zM671 189h1v1h-1zM672 190h2v1h-2zM674 191h1v1h-1zM675 192h2v1h-2zM677 193h1v1h-1zM678 194h2v1h-2zM680 195h1v1h-1zM681 196h2v1h-2zM683 197h2v1h-2zM691 202h1v1h-1zM692 203h2v1h-2zM694 204h1v1h-1zM695 205h2v1h-2zM697 206h1v1h-1zM698 207h2v1h-2zM700 208h1v1h-1zM701 209h2v1h-2zM703 210h1v1h-1zM704 211h2v1h-2zM706 212h1v1h-1zM707 213h2v1h-2zM715 218h1v1h-1zM716 219h2v1h-2zM718 220h1v1h-1zM719 221h2v1h-2zM721 222h1v1h-1zM722 223h2v1h-2zM724 224h2v1h-2zM726 225h1v1h-1zM727 226h2v1h-2zM729 227h1v1h-1zM730 228h2v1h-2zM732 229h1v1h-1zM739 234h2v1h-2zM741 235h1v1h-1zM742 236h2v1h-2zM744 237h1v1h-1zM745 238h2v1h-2zM747 239h1v1h-1zM748 240h2v1h-2zM750 241h1v1h-1zM751 242h2v1h-2zM753 243h1v1h-1zM754 244h2v1h-2zM756 245h1v1h-1zM763 250h2v1h-2zM765 251h2v1h-2zM767 252h1v1h-1zM768 253h2v1h-2zM770 254h1v1h-1zM771 255h2v1h-2zM773 256h1v1h-1zM774 257h2v1h-2zM776 258h1v1h-1zM777 259h2v1h-2zM779 260h1v1h-1zM780 261h1v1h-1zM787 265h1v1h-1zM788 266h1v1h-1zM789 267h2v1h-2zM791 268h1v1h-1zM792 269h2v1h-2zM794 270h1v1h-1zM795 271h2v1h-2zM797 272h1v1h-1zM798 273h2v1h-2zM800 274h1v1h-1zM801 275h2v1h-2zM803 276h1v1h-1zM804 277h1v1h-1zM811 281h1v1h-1zM812 282h2v1h-2zM814 283h1v1h-1zM815 284h2v1h-2zM817 285h1v1h-1zM818 286h2v1h-2zM820 287h1v1h-1zM821 288h2v1h-2zM823 289h1v1h-1zM824 290h2v1h-2zM826 291h1v1h-1zM827 292h2v1h-2zM835 297h1v1h-1zM836 298h2v1h-2zM838 299h1v1h-1zM839 300h2v1h-2zM841 301h1v1h-1zM842 302h2v1h-2zM844 303h1v1h-1zM845 304h2v1h-2zM847 305h1v1h-1zM848 306h2v1h-2zM850 307h2v1h-2zM852 308h1v1h-1zM859 313h2v1h-2zM861 314h1v1h-1zM862 315h2v1h-2zM864 316h1v1h-1zM865 317h2v1h-2zM867 318h1v1h-1zM868 319h2v1h-2zM870 320h1v1h-1zM871 321h2v1h-2zM873 322h1v1h-1zM874 323h2v1h-2zM876 324h1v1h-1zM883 329h2v1h-2zM885 330h1v1h-1zM886 331h2v1h-2zM888 332h1v1h-1zM889 333h2v1h-2zM891 334h2v1h-2zM893 335h1v1h-1zM894 336h2v1h-2zM896 337h1v1h-1zM897 338h2v1h-2zM899 339h1v1h-1zM900 340h1v1h-1zM907 344h1v1h-1zM908 345h1v1h-1zM909 346h2v1h-2zM911 347h1v1h-1zM912 348h2v1h-2zM914 349h1v1h-1zM915 350h2v1h-2zM917 351h1v1h-1zM918 352h2v1h-2zM920 353h1v1h-1zM921 354h2v1h-2zM923 355h1v1h-1zM924 356h1v1h-1zM931 360h1v1h-1zM932 361h2v1h-2zM934 362h1v1h-1zM935 363h2v1h-2zM937 364h1v1h-1zM938 365h2v1h-2zM940 366h1v1h-1zM941 367h2v1h-2zM943 368h1v1h-1zM944 369h2v1h-2zM946 370h1v1h-1zM947 371h2v1h-2zM955 376h1v1h-1zM956 377h2v1h-2zM958 378h1v1h-1zM959 379h2v1h-2zM961 380h1v1h-1zM962 381h2v1h-2zM964 382h1v1h-1zM965 383h2v1h-2zM967 384h1v1h-1zM968 385h2v1h-2zM970 386h1v1h-1zM971 387h2v1h-2zM979 392h2v1h-2zM981 393h1v1h-1zM982 394h2v1h-2zM984 395h1v1h-1zM985 396h2v1h-2zM3 410h2v1h-2zM5 411h4v1h-4zM9 412h3v1h-3zM12 413h3v1h-3zM15 414h4v1h-4zM19 415h2v1h-2zM27 417h2v1h-2zM29 418h3v1h-3zM32 419h4v1h-4zM36 420h3v1h-3zM39 421h3v1h-3zM42 422h3v1h-3zM51 424h1v1h-1zM52 425h4v1h-4zM56 426h3v1h-3zM59 427h4v1h-4zM63 428h3v1h-3zM66 429h3v1h-3zM75 431h1v1h-1zM76 432h3v1h-3zM79 433h4v1h-4zM83 434h3v1h-3zM86 435h3v1h-3zM89 436h4v1h-4zM99 438h1v1h-1zM100 439h3v1h-3zM103 440h3v1h-3zM106 441h4v1h-4zM110 442h3v1h-3zM113 443h3v1h-3zM116 444h1v1h-1zM123 446h3v1h-3zM126 447h4v1h-4zM130 448h3v1h-3zM133 449h4v1h-4zM137 450h3v1h-3zM140 451h1v1h-1zM147 453h3v1h-3zM150 454h3v1h-3zM153 455h4v1h-4zM157 456h3v1h-3zM160 457h4v1h-4zM164 458h1v1h-1zM171 460h3v1h-3zM174 461h3v1h-3zM177 462h3v1h-3zM180 463h4v1h-4zM184 464h3v1h-3zM187 465h2v1h-2zM195 467h2v1h-2zM197 468h4v1h-4zM201 469h3v1h-3zM204 470h3v1h-3zM207 471h4v1h-4zM211 472h2v1h-2zM219 474h2v1h-2zM221 475h3v1h-3zM224 476h3v1h-3zM227 477h4v1h-4zM231 478h3v1h-3zM234 479h3v1h-3z" fill="#0000ff" shape-rendering="crispEdges"/>
<g shape-rendering="crispEdges"><rect x="3" y="411" width="118" height="2" fill="#ff0000"/><rect x="3" y="432" width="118" height="2" fill="#ff0000"/></g>
<g clip-path="url(#cm)" shape-rendering="crispEdges">
<rect x="291" y="26" width="697" height="1" fill="#000088"/>
<rect x="291" y="121" width="697" height="1" fill="#000088"/>
<rect x="291" y="195" width="697" height="1" fill="#000088"/>
<rect x="291" y="247" width="697" height="1" fill="#000088"/>
<rect x="291" y="300" width="697" height="1" fill="#000088"/>
<rect x="291" y="364" width="697" height="1" fill="#000088"/>
<rect x="291" y="469" width="697" height="1" fill="#000088"/>
</g>
<path d="M291 26h1v1h-1zM292 27h1v1h-1zM293 28h1v1h-1zM297 31h1v1h-1zM298 32h2v1h-2zM303 36h2v1h-2zM305 37h1v1h-1zM309 40h1v1h-1zM310 41h1v1h-1zM311 42h1v1h-1zM315 45h1v1h-1zM316 46h1v1h-1zM317 47h1v1h-1zM321 50h1v1h-1zM322 51h1v1h-1zM323 52h1v1h-1zM327 55h1v1h-1zM328 56h2v1h-2zM333 60h1v1h-1zM334 61h2v1h-2zM339 65h2v1h-2zM341 66h1v1h-1zM345 69h1v1h-1zM346 70h1v1h-1zM347 71h1v1h-1zM351 74h1v1h-1zM352 75h1v1h-1zM353 76h1v1h-1zM357 79h1v1h-1zM358 80h1v1h-1zM359 81h1v1h-1zM363 84h1v1h-1zM364 85h2v1h-2zM369 89h2v1h-2zM371 90h1v1h-1zM375 93h1v1h-1zM376 94h1v1h-1zM377 95h1v1h-1zM381 98h1v1h-1zM382 99h1v1h-1zM383 100h1v1h-1zM387 103h1v1h-1zM388 104h1v1h-1zM389 105h1v1h-1zM393 108h1v1h-1zM394 109h2v1h-2zM399 113h2v1h-2zM401 114h1v1h-1zM405 117h1v1h-1zM406 118h1v1h-1zM407 119h1v1h-1zM411 122h1v1h-1zM412 123h1v1h-1zM413 124h1v1h-1zM417 127h1v1h-1zM418 128h1v1h-1zM419 129h1v1h-1zM423 132h1v1h-1zM424 133h1v1h-1zM425 134h1v1h-1zM429 137h1v1h-1zM430 138h2v1h-2zM435 142h2v1h-2zM437 143h1v1h-1zM441 146h1v1h-1zM442 147h1v1h-1zM443 148h1v1h-1zM447 151h1v1h-1zM448 152h1v1h-1zM449 153h1v1h-1zM453 156h1v1h-1zM454 157h1v1h-1zM455 158h1v1h-1zM459 161h1v1h-1zM460 162h2v1h-2zM465 166h2v1h-2zM467 167h1v1h-1zM471 170h1v1h-1zM472 171h1v1h-1zM473 172h1v1h-1zM477 175h1v1h-1zM478 176h1v1h-1zM479 177h1v1h-1zM483 180h1v1h-1zM484 181h1v1h-1zM485 182h1v1h-1zM489 185h1v1h-1zM490 186h1v1h-1zM491 187h1v1h-1zM495 190h1v1h-1zM496 191h2v1h-2zM501 195h2v1h-2zM503 196h1v1h-1zM507 199h1v1h-1zM508 200h1v1h-1zM509 201h1v1h-1zM513 204h1v1h-1zM514 205h1v1h-1zM515 206h1v1h-1zM519 209h1v1h-1zM520 210h1v1h-1zM521 211h1v1h-1zM525 214h1v1h-1zM526 215h2v1h-2zM531 219h2v1h-2zM533 220h1v1h-1zM537 223h1v1h-1zM538 224h1v1h-1zM539 225h1v1h-1zM543 228h1v1h-1zM544 229h1v1h-1zM545 230h1v1h-1zM549 233h1v1h-1zM550 234h1v1h-1zM551 235h1v1h-1zM555 238h1v1h-1zM556 239h2v1h-2zM561 243h2v1h-2zM563 244h1v1h-1zM567 247h1v1h-1zM568 248h1v1h-1zM569 249h1v1h-1zM573 252h1v1h-1zM574 253h1v1h-1zM575 254h1v1h-1zM579 257h1v1h-1zM580 258h1v1h-1zM581 259h1v1h-1zM585 262h1v1h-1zM586 263h1v1h-1zM587 264h1v1h-1zM591 267h1v1h-1zM592 268h2v1h-2zM597 272h2v1h-2zM599 273h1v1h-1zM603 276h1v1h-1zM604 277h1v1h-1zM605 278h1v1h-1zM609 281h1v1h-1zM610 282h1v1h-1zM611 283h1v1h-1zM615 286h1v1h-1zM616 287h1v1h-1zM617 288h1v1h-1zM621 291h1v1h-1zM622 292h2v1h-2zM627 296h2v1h-2zM629 297h1v1h-1zM633 300h1v1h-1zM634 301h1v1h-1zM635 302h1v1h-1zM639 305h1v1h-1zM640 306h1v1h-1zM641 307h1v1h-1zM645 310h1v1h-1zM646 311h1v1h-1zM647 312h1v1h-1zM651 315h1v1h-1zM652 316h1v1h-1zM653 317h1v1h-1zM657 320h1v1h-1zM658 321h2v1h-2zM663 325h2v1h-2zM665 326h1v1h-1zM669 329h1v1h-1zM670 330h1v1h-1zM671 331h1v1h-1zM675 334h1v1h-1zM676 335h1v1h-1zM677 336h1v1h-1zM681 339h1v1h-1zM682 340h1v1h-1zM683 341h1v1h-1zM687 344h1v1h-1zM688 345h2v1h-2zM693 349h2v1h-2zM695 350h1v1h-1zM699 353h1v1h-1zM700 354h1v1h-1zM701 355h1v1h-1zM705 358h1v1h-1zM706 359h1v1h-1zM707 360h1v1h-1zM711 363h1v1h-1zM712 364h1v1h-1zM713 365h1v1h-1zM717 368h1v1h-1zM718 369h2v1h-2zM723 373h2v1h-2zM725 374h1v1h-1zM729 377h1v1h-1zM730 378h1v1h-1zM731 379h1v1h-1zM735 382h1v1h-1zM736 383h1v1h-1zM737 384h1v1h-1zM741 387h1v1h-1zM742 388h1v1h-1zM743 389h1v1h-1zM747 392h1v1h-1zM748 393h1v1h-1zM749 394h1v1h-1zM753 397h1v1h-1zM754 398h2v1h-2zM759 402h2v1h-2zM761 403h1v1h-1zM765 406h1v1h-1zM766 407h1v1h-1zM767 408h1v1h-1zM771 411h1v1h-1zM772 412h1v1h-1zM773 413h1v1h-1zM777 416h1v1h-1zM778 417h1v1h-1zM779 418h1v1h-1zM783 421h1v1h-1zM784 422h2v1h-2zM789 426h2v1h-2zM791 427h1v1h-1zM795 430h1v1h-1zM796 431h1v1h-1zM797 432h1v1h-1zM801 435h1v1h-1zM802 436h1v1h-1zM803 437h1v1h-1zM807 440h1v1h-1zM808 441h1v1h-1zM809 442h1v1h-1zM813 445h1v1h-1zM814 446h1v1h-1zM815 447h1v1h-1zM819 450h1v1h-1zM820 451h2v1h-2zM825 455h2v1h-2zM827 456h1v1h-1zM831 459h1v1h-1zM832 460h1v1h-1zM833 461h1v1h-1zM837 464h1v1h-1zM838 465h1v1h-1zM839 466h1v1h-1zM843 469h1v1h-1z" fill="#ff0000" shape-rendering="crispEdges"/>
<text x="955.1" y="24" font-size="12" fill="#000088" textLength="30.4" lengthAdjust="spacingAndGlyphs">100.0</text>
<text x="961.2" y="119" font-size="12" fill="#000088" textLength="24.3" lengthAdjust="spacingAndGlyphs">78.6</text>
<text x="961.2" y="193" font-size="12" fill="#000088" textLength="24.3" lengthAdjust="spacingAndGlyphs">61.8</text>
<text x="961.2" y="245" font-size="12" fill="#000088" textLength="24.3" lengthAdjust="spacingAndGlyphs">50.0</text>
<text x="961.2" y="298" font-size="12" fill="#000088" textLength="24.3" lengthAdjust="spacingAndGlyphs">38.2</text>
<text x="961.2" y="362" font-size="12" fill="#000088" textLength="24.3" lengthAdjust="spacingAndGlyphs">23.6</text>
<text x="968.8" y="467" font-size="12" fill="#000088" textLength="16.7" lengthAdjust="spacingAndGlyphs">0.0</text>
<g clip-path="url(#cd)" shape-rendering="crispEdges">
<rect x="0" y="495" width="7" height="49" fill="#000"/>
<rect x="8" y="494" width="7" height="50" fill="#000"/>
<rect x="16" y="491" width="7" height="53" fill="#000"/>
<rect x="24" y="492" width="7" height="52" fill="#000"/>
<rect x="32" y="493" width="7" height="51" fill="#000"/>
<rect x="40" y="499" width="7" height="45" fill="#000"/>
<rect x="48" y="503" width="7" height="41" fill="#000"/>
<rect x="56" y="509" width="7" height="35" fill="#000"/>
<rect x="64" y="511" width="7" height="33" fill="#000"/>
<rect x="72" y="513" width="7" height="31" fill="#000"/>
<rect x="80" y="515" width="7" height="29" fill="#000"/>
<rect x="88" y="519" width="7" height="25" fill="#000"/>
<rect x="96" y="522" width="7" height="22" fill="#000"/>
<rect x="104" y="524" width="7" height="20" fill="#000"/>
<rect x="112" y="525" width="7" height="19" fill="#000"/>
<rect x="120" y="524" width="7" height="20" fill="#000"/>
<rect x="128" y="523" width="7" height="21" fill="#000"/>
<rect x="136" y="522" width="7" height="22" fill="#000"/>
<rect x="144" y="523" width="7" height="21" fill="#000"/>
<rect x="152" y="523" width="7" height="21" fill="#000"/>
<rect x="160" y="516" width="7" height="28" fill="#000"/>
<rect x="168" y="512" width="7" height="32" fill="#000"/>
<rect x="176" y="511" width="7" height="33" fill="#000"/>
<rect x="184" y="510" width="7" height="34" fill="#000"/>
<rect x="192" y="508" width="7" height="36" fill="#000"/>
<rect x="200" y="508" width="7" height="36" fill="#000"/>
<rect x="208" y="509" width="7" height="35" fill="#000"/>
<rect x="216" y="510" width="7" height="34" fill="#000"/>
<rect x="224" y="509" width="7" height="35" fill="#000"/>
<rect x="232" y="505" width="7" height="39" fill="#000"/>
<rect x="240" y="504" width="7" height="40" fill="#000"/>
<rect x="248" y="507" width="7" height="37" fill="#000"/>
<rect x="256" y="507.6" width="7" height="36.39999999999998" fill="#000"/>
<rect x="264" y="507" width="7" height="37" fill="#000"/>
<rect x="272" y="506" width="7" height="38" fill="#000"/>
<rect x="280" y="504" width="7" height="40" fill="#000"/>
<rect x="288" y="503" width="7" height="41" fill="#000"/>
<rect x="296" y="505" width="7" height="39" fill="#000"/>
<rect x="304" y="506" width="7" height="38" fill="#000"/>
<rect x="312" y="509" width="7" height="35" fill="#000"/>
<rect x="320" y="510" width="7" height="34" fill="#000"/>
<rect x="328" y="517" width="7" height="27" fill="#000"/>
<rect x="336" y="523" width="7" height="21" fill="#000"/>
<rect x="344" y="526" width="7" height="18" fill="#000"/>
<rect x="352" y="530" width="7" height="14" fill="#000"/>
<rect x="360" y="536" width="7" height="8" fill="#000"/>
<rect x="368" y="541" width="7" height="3" fill="#000"/>
<rect x="376" y="543" width="7" height="1" fill="#000"/>
<rect x="384" y="544" width="7" height="1" fill="#000"/>
<rect x="392" y="544" width="7" height="1" fill="#000"/>
<rect x="400" y="542" width="7" height="2" fill="#000"/>
<rect x="408" y="541" width="7" height="3" fill="#000"/>
<rect x="416" y="543" width="7" height="1" fill="#000"/>
<rect x="424" y="544" width="7" height="2" fill="#000"/>
<rect x="432" y="544" width="7" height="4" fill="#000"/>
<rect x="440" y="544" width="7" height="3" fill="#000"/>
<rect x="448" y="544" width="7" height="2" fill="#000"/>
<rect x="456" y="544" width="7" height="3" fill="#000"/>
<rect x="464" y="544" width="7" height="3" fill="#000"/>
<rect x="472" y="544" width="7" height="7" fill="#000"/>
<rect x="480" y="544" width="7" height="11" fill="#000"/>
<rect x="488" y="544" width="7" height="15" fill="#000"/>
<rect x="496" y="544" width="7" height="16" fill="#000"/>
<rect x="504" y="544" width="7" height="16" fill="#000"/>
<rect x="512" y="544" width="7" height="20" fill="#000"/>
<rect x="520" y="544" width="7" height="21" fill="#000"/>
<rect x="528" y="544" width="7" height="22" fill="#000"/>
<rect x="536" y="544" width="7" height="23" fill="#000"/>
<rect x="544" y="544" width="7" height="24" fill="#000"/>
<rect x="552" y="544" width="7" height="21" fill="#000"/>
<rect x="560" y="544" width="7" height="17" fill="#000"/>
<rect x="568" y="544" width="7" height="18" fill="#000"/>
<rect x="576" y="544" width="7" height="22" fill="#000"/>
<rect x="584" y="544" width="7" height="30" fill="#000"/>
<rect x="592" y="544" width="7" height="38" fill="#000"/>
<rect x="600" y="544" width="7" height="44" fill="#000"/>
<rect x="608" y="544" width="7" height="48" fill="#000"/>
<rect x="616" y="544" width="7" height="53" fill="#000"/>
<rect x="624" y="544" width="7" height="56" fill="#000"/>
<rect x="632" y="544" width="7" height="56" fill="#000"/>
<rect x="640" y="544" width="7" height="56" fill="#000"/>
<rect x="648" y="544" width="7" height="57" fill="#000"/>
<rect x="656" y="544" width="7" height="58" fill="#000"/>
<rect x="664" y="544" width="7" height="57" fill="#000"/>
<rect x="672" y="544" width="7" height="54" fill="#000"/>
<rect x="680" y="544" width="7" height="50" fill="#000"/>
<rect x="688" y="544" width="7" height="45" fill="#000"/>
<rect x="696" y="544" width="7" height="42" fill="#000"/>
<rect x="704" y="544" width="7" height="37" fill="#000"/>
<rect x="712" y="544" width="7" height="34" fill="#000"/>
<rect x="720" y="544" width="7" height="33" fill="#000"/>
<rect x="728" y="544" width="7" height="30" fill="#000"/>
<rect x="736" y="544" width="7" height="28" fill="#000"/>
<rect x="744" y="544" width="7" height="28" fill="#000"/>
<rect x="752" y="544" width="7" height="34" fill="#000"/>
<rect x="760" y="544" width="7" height="36" fill="#000"/>
<rect x="768" y="544" width="7" height="34" fill="#000"/>
<rect x="776" y="544" width="7" height="34" fill="#000"/>
<rect x="784" y="544" width="7" height="34" fill="#000"/>
<rect x="792" y="544" width="7" height="42" fill="#000"/>
<rect x="800" y="544" width="7" height="52" fill="#000"/>
<rect x="808" y="544" width="7" height="60" fill="#000"/>
<rect x="816" y="544" width="7" height="64" fill="#000"/>
<rect x="824" y="544" width="7" height="70" fill="#000"/>
<rect x="832" y="544" width="7" height="73" fill="#000"/>
<rect x="840" y="544" width="7" height="79" fill="#000"/>
<rect x="848" y="544" width="7" height="81" fill="#000"/>
<rect x="856" y="544" width="7" height="77" fill="#000"/>
<rect x="864" y="544" width="7" height="76" fill="#000"/>
<rect x="872" y="544" width="7" height="74" fill="#000"/>
<rect x="880" y="544" width="7" height="73" fill="#000"/>
<rect x="888" y="544" width="7" height="70" fill="#000"/>
<rect x="896" y="544" width="7" height="66" fill="#000"/>
<rect x="904" y="544" width="7" height="59" fill="#000"/>
<rect x="912" y="544" width="7" height="54" fill="#000"/>
<rect x="920" y="544" width="7" height="50" fill="#000"/>
<rect x="928" y="544" width="7" height="49" fill="#000"/>
<rect x="936" y="544" width="7" height="45" fill="#000"/>
<rect x="944" y="544" width="7" height="38" fill="#000"/>
<rect x="952" y="544" width="7" height="33" fill="#000"/>
<rect x="960" y="544" width="7" height="24" fill="#000"/>
</g>
<g clip-path="url(#cd)"><polyline points="3.5,501 11.5,499.4 19.5,498 27.5,496 35.5,494.4 43.5,494.6 51.5,495.6 59.5,497 67.5,499 75.5,501 83.5,503 91.5,506 99.5,509 107.5,512 115.5,515.6 123.5,517.6 131.5,519 139.5,520 147.5,521.4 155.5,522.6 163.5,522.4 171.5,521.4 179.5,520 187.5,518.6 195.5,517 203.5,515.6 211.5,514 219.5,512.6 227.5,511 235.5,509.6 243.5,508.4 251.5,508 259.5,508 267.5,507.6 275.5,507 283.5,506.6 291.5,506 299.5,505.6 307.5,505.6 315.5,506 323.5,507 331.5,508 339.5,508.6 347.5,511 355.5,513.6 363.5,517 371.5,521 379.5,525 387.5,529 395.5,533 403.5,537 411.5,538.6 419.5,540 427.5,541.4 435.5,543 443.5,543.6 451.5,544 459.5,544.4 467.5,544.6 475.5,545.2 483.5,546.6 491.5,548.6 499.5,550 507.5,551 515.5,552.4 523.5,554 531.5,555.6 539.5,558 547.5,561 555.5,562.4 563.5,562.6 571.5,562.6 579.5,563.6 587.5,564.6 595.5,566 603.5,568 611.5,571 619.5,573.6 627.5,577 635.5,581 643.5,585 651.5,589 659.5,593 667.5,595.6 675.5,597.4 683.5,598 691.5,598 699.5,597.6 707.5,596 715.5,594 723.5,591.6 731.5,589 739.5,585.6 747.5,582 755.5,579 763.5,578.4 771.5,577.6 779.5,576.6 787.5,575.6 795.5,575.6 803.5,577.6 811.5,582 819.5,586 827.5,589.6 835.5,593.6 843.5,599 851.5,604 859.5,608.6 867.5,613 875.5,616.4 883.5,617.6 891.5,617.6 899.5,617.6 907.5,616 915.5,612.6 923.5,608 931.5,605 939.5,601 947.5,597 955.5,593.6 963.5,590.6" fill="none" stroke="#ff0000" stroke-width="2" stroke-linejoin="round" stroke-linecap="round" shape-rendering="crispEdges"/></g>
<g clip-path="url(#cr)">
<line x1="4" y1="686.5" x2="987" y2="686.5" stroke="#c0c0c0" stroke-width="1" stroke-dasharray="3 3" shape-rendering="crispEdges"/>
<line x1="4" y1="754.5" x2="987" y2="754.5" stroke="#c0c0c0" stroke-width="1" stroke-dasharray="3 3" shape-rendering="crispEdges"/>
<polyline points="3.5,691 11.5,687.6 19.5,684 27.5,695.6 35.5,695.6 43.5,711 51.5,710 59.5,715 67.5,708 75.5,709 83.5,709 91.5,720 99.5,716.4 107.5,713.6 115.5,709.6 123.5,705.6 131.5,701 139.5,702.4 147.5,703 155.5,703 163.5,684 171.5,684 179.5,697 187.5,693.6 195.5,693.6 203.5,695 211.5,696.6 219.5,696.6 227.5,691 235.5,682 243.5,688.6 251.5,705 259.5,699 267.5,695 275.5,693.6 283.5,688 291.5,688 299.5,699.6 307.5,701 315.5,705 323.5,699 331.5,724.6 339.5,726 347.5,722 355.5,723 363.5,734.4 371.5,736 379.5,725 387.5,724.6 395.5,721 403.5,714 411.5,714.4 419.5,723 427.5,729.6 435.5,728.6 443.5,720.4 451.5,717 459.5,723.6 467.5,722.6 475.5,738 483.5,742.4 491.5,743 499.5,735 507.5,733 515.5,745 523.5,737.4 531.5,737.4 539.5,743 547.5,739 555.5,722 563.5,717 571.5,733.6 579.5,743.6 587.5,755.6 595.5,756 603.5,759 611.5,759 619.5,762 627.5,758.4 635.5,752.6 643.5,753 651.5,756.6 659.5,758 667.5,754 675.5,745.6 683.5,737.6 691.5,735 699.5,736 707.5,728.6 715.5,733.4 723.5,737 731.5,733 739.5,732 747.5,742.4 755.5,760 763.5,742 771.5,732 779.5,737 787.5,737 795.5,755 803.5,761 811.5,762.6 819.5,755.6 827.5,761 835.5,759 843.5,763.6 851.5,755 859.5,741.6 867.5,745.6 875.5,743 883.5,747 891.5,744 899.5,738.6 907.5,731 915.5,731 923.5,734 931.5,739 939.5,730 947.5,722 955.5,722.6 963.5,709.6" fill="none" stroke="#1e90ff" stroke-width="2" stroke-linejoin="round" stroke-linecap="round" shape-rendering="crispEdges"/>
</g>
<g shape-rendering="crispEdges">
<rect x="2" y="2" width="986" height="1" fill="#000"/>
<rect x="2" y="481" width="986" height="1" fill="#000"/>
<rect x="2" y="2" width="1" height="480" fill="#000"/>
<rect x="987" y="2" width="1" height="480" fill="#000"/>
<rect x="2" y="483" width="986" height="1" fill="#000"/>
<rect x="2" y="631" width="986" height="1" fill="#000"/>
<rect x="2" y="483" width="1" height="149" fill="#000"/>
<rect x="987" y="483" width="1" height="149" fill="#000"/>
<rect x="2" y="633" width="986" height="1" fill="#000"/>
<rect x="2" y="806" width="986" height="1" fill="#000"/>
<rect x="2" y="633" width="1" height="174" fill="#000"/>
<rect x="987" y="633" width="1" height="174" fill="#000"/>
<rect x="988" y="21" width="3" height="1" fill="#000"/>
<rect x="988" y="70" width="3" height="1" fill="#000"/>
<rect x="988" y="119" width="3" height="1" fill="#000"/>
<rect x="988" y="168" width="3" height="1" fill="#000"/>
<rect x="988" y="217" width="3" height="1" fill="#000"/>
<rect x="988" y="315" width="3" height="1" fill="#000"/>
<rect x="988" y="364" width="3" height="1" fill="#000"/>
<rect x="988" y="462" width="3" height="1" fill="#000"/>
<rect x="988" y="485" width="2" height="1" fill="#000"/>
<rect x="988" y="544" width="2" height="1" fill="#000"/>
<rect x="988" y="630" width="2" height="1" fill="#000"/>
<rect x="988" y="635" width="2" height="1" fill="#000"/>
<rect x="988" y="686" width="2" height="1" fill="#000"/>
<rect x="988" y="754" width="2" height="1" fill="#000"/>
<rect x="988" y="805" width="2" height="1" fill="#000"/>
<rect x="3" y="807" width="1" height="4" fill="#000"/>
<rect x="99" y="807" width="1" height="4" fill="#000"/>
<rect x="195" y="807" width="1" height="4" fill="#000"/>
<rect x="291" y="807" width="1" height="4" fill="#000"/>
<rect x="387" y="807" width="1" height="4" fill="#000"/>
<rect x="483" y="807" width="1" height="4" fill="#000"/>
<rect x="579" y="807" width="1" height="4" fill="#000"/>
<rect x="675" y="807" width="1" height="4" fill="#000"/>
<rect x="771" y="807" width="1" height="4" fill="#000"/>
<rect x="867" y="807" width="1" height="4" fill="#000"/>
<rect x="963" y="807" width="1" height="4" fill="#000"/>
</g>
<g shape-rendering="crispEdges">
<rect x="987" y="265" width="1" height="2" fill="#008000"/>
<rect x="987" y="300" width="1" height="2" fill="#008000"/>
<rect x="987" y="325" width="1" height="2" fill="#008000"/>
<rect x="987" y="348" width="1" height="2" fill="#0000ff"/>
<rect x="987" y="386" width="1" height="2" fill="#ff0000"/>
<rect x="987" y="411" width="1" height="2" fill="#ff0000"/>
<rect x="987" y="432" width="1" height="2" fill="#ff0000"/>
<rect x="987" y="475" width="1" height="2" fill="#ff0000"/>
</g>
<text x="994.5" y="26" font-size="12" fill="#000" textLength="45" lengthAdjust="spacingAndGlyphs">110.405</text>
<text x="994.5" y="75" font-size="12" fill="#000" textLength="45" lengthAdjust="spacingAndGlyphs">109.030</text>
<text x="994.5" y="124" font-size="12" fill="#000" textLength="45" lengthAdjust="spacingAndGlyphs">107.655</text>
<text x="994.5" y="173" font-size="12" fill="#000" textLength="45" lengthAdjust="spacingAndGlyphs">106.305</text>
<text x="994.5" y="222" font-size="12" fill="#000" textLength="45" lengthAdjust="spacingAndGlyphs">104.930</text>
<text x="994.5" y="320" font-size="12" fill="#000" textLength="45" lengthAdjust="spacingAndGlyphs">102.205</text>
<text x="994.5" y="369" font-size="12" fill="#000" textLength="45" lengthAdjust="spacingAndGlyphs">100.830</text>
<text x="994.5" y="467" font-size="12" fill="#000" textLength="38.5" lengthAdjust="spacingAndGlyphs">98.105</text>
<g shape-rendering="crispEdges">
<rect x="989" y="328" width="56" height="13" fill="#000"/>
<text x="994.5" y="340" font-size="12" fill="#fff" textLength="45" lengthAdjust="spacingAndGlyphs">101.680</text>
<rect x="989" y="260" width="56" height="14" fill="#008000"/>
<text x="994.5" y="272" font-size="12" fill="#fff" textLength="45" lengthAdjust="spacingAndGlyphs">103.575</text>
<rect x="989" y="295" width="56" height="14" fill="#008000"/>
<text x="994.5" y="307" font-size="12" fill="#fff" textLength="45" lengthAdjust="spacingAndGlyphs">102.600</text>
<rect x="989" y="320" width="56" height="14" fill="#008000"/>
<text x="994.5" y="332" font-size="12" fill="#fff" textLength="45" lengthAdjust="spacingAndGlyphs">101.900</text>
<rect x="989" y="343" width="56" height="14" fill="#0000ff"/>
<text x="994.5" y="355" font-size="12" fill="#fff" textLength="45" lengthAdjust="spacingAndGlyphs">101.250</text>
<rect x="989" y="381" width="56" height="14" fill="#ff0000"/>
<text x="994.5" y="393" font-size="12" fill="#fff" textLength="45" lengthAdjust="spacingAndGlyphs">100.200</text>
<rect x="989" y="406" width="56" height="14" fill="#ff0000"/>
<text x="994.5" y="418" font-size="12" fill="#fff" textLength="38.5" lengthAdjust="spacingAndGlyphs">99.500</text>
<rect x="989" y="427" width="56" height="14" fill="#ff0000"/>
<text x="994.5" y="439" font-size="12" fill="#fff" textLength="38.5" lengthAdjust="spacingAndGlyphs">98.900</text>
<rect x="989" y="470" width="56" height="14" fill="#ff0000"/>
<text x="994.5" y="482" font-size="12" fill="#fff" textLength="38.5" lengthAdjust="spacingAndGlyphs">97.702</text>
</g>
<text x="991.5" y="497.5" font-size="12" fill="#000" textLength="31" lengthAdjust="spacingAndGlyphs">1.126</text>
<text x="991.5" y="549.5" font-size="12" fill="#000" textLength="24.5" lengthAdjust="spacingAndGlyphs">0.00</text>
<text x="991" y="628.3" font-size="12" fill="#000" textLength="42" lengthAdjust="spacingAndGlyphs">-1.6512</text>
<text x="991.5" y="647.5" font-size="12" fill="#000" textLength="19" lengthAdjust="spacingAndGlyphs">100</text>
<text x="991.5" y="692" font-size="12" fill="#000" textLength="12.5" lengthAdjust="spacingAndGlyphs">70</text>
<text x="991.5" y="760" font-size="12" fill="#000" textLength="12.5" lengthAdjust="spacingAndGlyphs">30</text>
<text x="991.5" y="803" font-size="12" fill="#000" textLength="6" lengthAdjust="spacingAndGlyphs">0</text>
<path d="M6,10 L15,10 L10.5,15 Z" fill="#000"/>
<text x="21" y="16.5" font-size="12" fill="#000" textLength="68" lengthAdjust="spacingAndGlyphs">USDInd,Daily</text>
<text x="99" y="16.5" font-size="12" fill="#000" textLength="45" lengthAdjust="spacingAndGlyphs">100.580</text>
<text x="148.5" y="16.5" font-size="12" fill="#000" textLength="45" lengthAdjust="spacingAndGlyphs">101.710</text>
<text x="198.5" y="16.5" font-size="12" fill="#000" textLength="45.5" lengthAdjust="spacingAndGlyphs">100.505</text>
<text x="248.5" y="16.5" font-size="12" fill="#000" textLength="45" lengthAdjust="spacingAndGlyphs">101.680</text>
<text x="7" y="498.5" font-size="12" fill="#000" textLength="178" lengthAdjust="spacingAndGlyphs">MACD(12,26,9) -0.4392 -0.8727</text>
<text x="7" y="649" font-size="12" fill="#000" textLength="91" lengthAdjust="spacingAndGlyphs">RSI(14) 56.3245</text>
<text x="2" y="822" font-size="12.2" fill="#000" textLength="71.3" lengthAdjust="spacingAndGlyphs">20 Nov 2024</text>
<text x="98" y="822" font-size="12.2" fill="#000" textLength="62.6" lengthAdjust="spacingAndGlyphs">6 Dec 2024</text>
<text x="194" y="822" font-size="12.2" fill="#000" textLength="71.3" lengthAdjust="spacingAndGlyphs">24 Dec 2024</text>
<text x="290" y="822" font-size="12.2" fill="#000" textLength="68.3" lengthAdjust="spacingAndGlyphs">13 Jan 2025</text>
<text x="386" y="822" font-size="12.2" fill="#000" textLength="68.3" lengthAdjust="spacingAndGlyphs">29 Jan 2025</text>
<text x="482" y="822" font-size="12.2" fill="#000" textLength="70.2" lengthAdjust="spacingAndGlyphs">14 Feb 2025</text>
<text x="578" y="822" font-size="12.2" fill="#000" textLength="62.6" lengthAdjust="spacingAndGlyphs">4 Mar 2025</text>
<text x="674" y="822" font-size="12.2" fill="#000" textLength="69.8" lengthAdjust="spacingAndGlyphs">20 Mar 2025</text>
<text x="770" y="822" font-size="12.2" fill="#000" textLength="62.9" lengthAdjust="spacingAndGlyphs">7 Apr 2025</text>
<text x="866" y="822" font-size="12.2" fill="#000" textLength="69.3" lengthAdjust="spacingAndGlyphs">24 Apr 2025</text>
<text x="962" y="822" font-size="12.2" fill="#000" textLength="71.2" lengthAdjust="spacingAndGlyphs">12 May 2025</text>
</svg></body></html>
